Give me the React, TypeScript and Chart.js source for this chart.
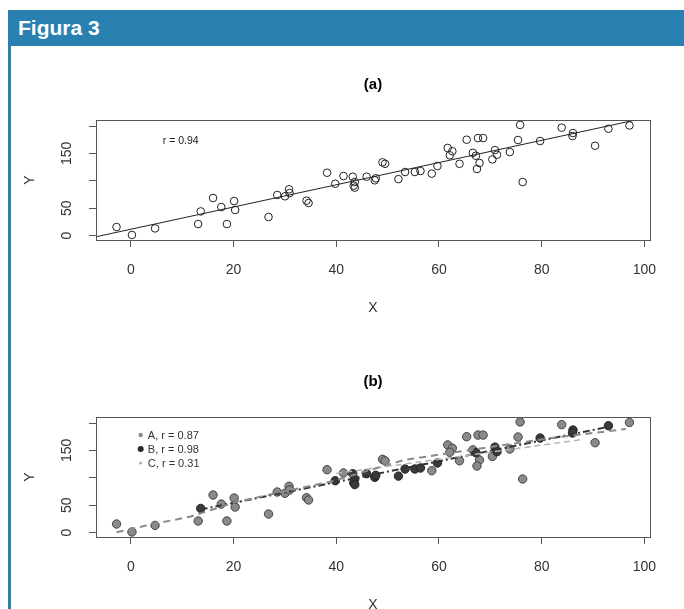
import React, { useEffect, useRef } from "react";
import { Chart, registerables } from "chart.js";
Chart.register(...registerables);

const FONT = "'Liberation Sans', Arial, Helvetica, sans-serif";
const BLUE = "#2a80b0";

// ---- data ----
const xTickValues = [0, 20, 40, 60, 80, 100];
const yTickValues = [0, 50, 100, 150, 200];
const yTickLabels = ["0", "50", "", "150", ""];

const groupAX = [-2.8, 0.2, 4.7, 13.1, 16, 17.6, 18.7, 20.1, 20.3, 26.8, 28.5, 30, 30.8, 30.9, 34.2, 34.6, 38.2, 41.4, 49, 49.5, 58.6, 61.7, 62.6, 62.1, 64, 65.4, 66.6, 67.6, 68.6, 67.9, 67.4, 70.4, 73.8, 75.4, 75.8, 76.3, 83.9, 90.4, 97.1];
const groupAY = [15.5, 1, 13, 21, 68.5, 52, 21, 63, 46.6, 33.8, 74, 71.6, 84.4, 77.6, 63.6, 59.4, 114.7, 108.7, 133.7, 131, 113, 160, 154, 146.5, 131, 175, 151, 178, 178, 132.4, 121.5, 139, 152.5, 174.4, 202, 97.7, 197, 164, 201];
const groupBX = [13.6, 39.8, 43.2, 43.6, 43.4, 43.6, 45.9, 47.5, 47.7, 52.1, 53.4, 55.3, 56.4, 59.7, 67.2, 70.9, 71.3, 79.7, 86.1, 86, 93];
const groupBY = [44, 94.6, 107.4, 97.7, 91, 87.5, 107.4, 100.8, 104.5, 103, 116, 116, 117.8, 127, 145.7, 156, 147.6, 172.6, 187.2, 181.7, 195];

// fitted line of panel (a)
const fitAX = [-6.8, 101.1];
const fitAY = [-2.3, 216.7];
// fitted lines of panel (b)
const curveAX = [-2.8, 3.4, 11.5, 20.6, 30.3, 39.4, 46.5, 53, 59.5, 81.5, 96.4];
const curveAY = [0.4, 13.7, 28.9, 56, 75.8, 94, 114, 132, 141.5, 172, 189];
const lineBX = [13.6, 93];
const lineBY = [42, 193];
const lineCX = [40, 88];
const lineCY = [108, 170];

const legendLabels = ["A, r = 0.87", "B, r = 0.98", "C, r = 0.31"];
const rText = "r = 0.94";

const pts = (xs: number[], ys: number[]) => xs.map((x, i) => ({ x, y: ys[i] }));

function baseOptions(title: string) {
  return {
    responsive: false,
    maintainAspectRatio: false,
    animation: false,
    layout: { padding: { left: 0, right: 34, top: 0, bottom: 0 } },
    plugins: {
      legend: { display: false },
      tooltip: { enabled: false },
      title: {
        display: true,
        text: title,
        fullSize: false,
        color: "#000",
        font: { family: FONT, size: 15, weight: "bold" },
        padding: { top: 21, bottom: 26 },
      },
    },
    scales: {
      x: {
        type: "linear",
        position: "bottom",
        min: -6.8,
        max: 101.1,
        afterBuildTicks: (s: any) => {
          s.ticks = xTickValues.map((v) => ({ value: v }));
        },
        afterFit: (s: any) => {
          s.height = 95;
        },
        border: { display: false },
        grid: { drawOnChartArea: false, drawTicks: true, tickLength: 7, color: "#555", lineWidth: 1 },
        ticks: { font: { family: FONT, size: 14 }, color: "#333", padding: 14.6, maxRotation: 0, autoSkip: false },
        title: { display: true, text: "X", color: "#333", font: { family: FONT, size: 14 }, padding: { top: 0, bottom: 18.6 } },
      },
      y: {
        type: "linear",
        position: "left",
        min: -8.2,
        max: 211,
        afterBuildTicks: (s: any) => {
          s.ticks = yTickValues.map((v) => ({ value: v }));
        },
        afterFit: (s: any) => {
          s.width = 96;
        },
        border: { display: false },
        grid: { drawOnChartArea: false, drawTicks: true, tickLength: 7, color: "#555", lineWidth: 1 },
        ticks: {
          font: { family: FONT, size: 14 },
          color: "#333",
          padding: 10.5,
          minRotation: 90,
          maxRotation: 90,
          crossAlign: "center",
          autoSkip: false,
          callback: (v: number) => {
            const i = yTickValues.indexOf(v);
            return i >= 0 ? yTickLabels[i] : "";
          },
        },
        title: { display: true, text: "Y", color: "#333", font: { family: FONT, size: 14 }, padding: { top: 21.6, bottom: 0 } },
      },
    },
  };
}

const boxPlugin = {
  id: "rbox",
  afterDraw(chart: any) {
    const { ctx, chartArea: a } = chart;
    ctx.save();
    ctx.strokeStyle = "#555";
    ctx.lineWidth = 1;
    ctx.strokeRect(Math.round(a.left) + 0.5, Math.round(a.top) + 0.5, Math.round(a.right - a.left), Math.round(a.bottom - a.top));
    ctx.restore();
  },
};

const rTextPlugin = {
  id: "rtext",
  afterDraw(chart: any) {
    const { ctx, scales } = chart;
    ctx.save();
    ctx.font = `10.5px ${FONT}`;
    ctx.fillStyle = "#222";
    ctx.textAlign = "center";
    ctx.textBaseline = "middle";
    ctx.fillText(rText, scales.x.getPixelForValue(9.7), scales.y.getPixelForValue(172.6));
    ctx.restore();
  },
};

const legendPlugin = {
  id: "rlegend",
  afterDraw(chart: any) {
    const { ctx, scales } = chart;
    const rowsY = [178, 152.5, 127];
    const symX = scales.x.getPixelForValue(1.9);
    const txtX = scales.x.getPixelForValue(3.3);
    const syms = [
      { r: 2.2, c: "#8a8a8a" },
      { r: 3, c: "#2a2a2a" },
      { r: 1.5, c: "#b0b0b0" },
    ];
    ctx.save();
    ctx.font = `11px ${FONT}`;
    ctx.textAlign = "left";
    ctx.textBaseline = "middle";
    legendLabels.forEach((lab, i) => {
      const y = scales.y.getPixelForValue(rowsY[i]);
      ctx.beginPath();
      ctx.fillStyle = syms[i].c;
      ctx.arc(symX, y, syms[i].r, 0, Math.PI * 2);
      ctx.fill();
      ctx.fillStyle = "#333";
      ctx.fillText(lab, txtX, y + 0.5);
    });
    ctx.restore();
  },
};

function PanelA() {
  const ref = useRef<HTMLCanvasElement>(null);
  useEffect(() => {
    const chart = new Chart(ref.current as HTMLCanvasElement, {
      type: "scatter",
      data: {
        datasets: [
          {
            data: pts(fitAX, fitAY),
            showLine: true,
            borderColor: "#222",
            borderWidth: 1,
            pointRadius: 0,
            clip: 0,
          },
          {
            data: pts(groupAX.concat(groupBX), groupAY.concat(groupBY)),
            pointRadius: 3.8,
            pointBorderColor: "#222",
            pointBackgroundColor: "rgba(255,255,255,0)",
            pointBorderWidth: 1,
            showLine: false,
          },
        ],
      } as any,
      options: baseOptions("(a)") as any,
      plugins: [boxPlugin, rTextPlugin],
    });
    return () => chart.destroy();
  }, []);
  return <canvas ref={ref} width={684} height={280} style={{ position: "absolute", left: 0, top: 55, width: 684, height: 280 }} />;
}

function PanelB() {
  const ref = useRef<HTMLCanvasElement>(null);
  useEffect(() => {
    const chart = new Chart(ref.current as HTMLCanvasElement, {
      type: "scatter",
      data: {
        datasets: [
          {
            data: pts(curveAX, curveAY),
            showLine: true,
            borderColor: "#8a8a8a",
            borderWidth: 2,
            borderDash: [7, 5],
            pointRadius: 0,
            clip: 0,
          },
          {
            data: pts(lineCX, lineCY),
            showLine: true,
            borderColor: "#b4b4b4",
            borderWidth: 1.5,
            borderDash: [6, 4],
            pointRadius: 0,
            clip: 0,
          },
          {
            data: pts(lineBX, lineBY),
            showLine: true,
            borderColor: "#333",
            borderWidth: 2,
            borderDash: [7, 3, 2, 3],
            pointRadius: 0,
            clip: 0,
          },
          {
            data: pts(groupBX, groupBY),
            pointRadius: 4.2,
            pointBorderColor: "#222",
            pointBackgroundColor: "#3a3a3a",
            pointBorderWidth: 1,
            showLine: false,
          },
          {
            data: pts(groupAX, groupAY),
            pointRadius: 4.2,
            pointBorderColor: "#444",
            pointBackgroundColor: "#8a8a8a",
            pointBorderWidth: 1,
            showLine: false,
          },
        ],
      } as any,
      options: baseOptions("(b)") as any,
      plugins: [boxPlugin, legendPlugin],
    });
    return () => chart.destroy();
  }, []);
  return <canvas ref={ref} width={684} height={280} style={{ position: "absolute", left: 0, top: 352, width: 684, height: 280 }} />;
}

export default function App() {
  return (
    <div style={{ position: "absolute", left: 0, top: 0, width: 684, height: 609, overflow: "hidden", background: "#fff" }}>
      <div
        style={{
          position: "absolute",
          left: 8,
          top: 10,
          width: 676,
          height: 36,
          background: BLUE,
          color: "#fff",
          fontFamily: FONT,
          fontWeight: "bold",
          fontSize: 21,
          lineHeight: "36px",
          paddingLeft: 10,
          boxSizing: "border-box",
        }}
      >
        Figura 3
      </div>
      <div style={{ position: "absolute", left: 8, top: 46, width: 3, height: 563, background: BLUE }} />
      <PanelA />
      <PanelB />
    </div>
  );
}
